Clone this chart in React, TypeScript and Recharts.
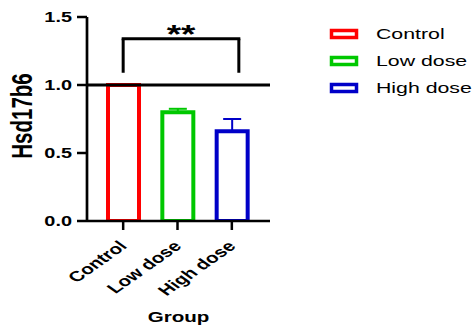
import React from "react";
import {
  BarChart,
  Bar,
  XAxis,
  YAxis,
  ErrorBar,
  ReferenceLine,
  Label,
  Legend,
} from "recharts";

const groups = ["Control", "Low dose", "High dose"];
const means = [1.0, 0.8, 0.66];
const upperErrors = [0, 0.025, 0.09];
const colors = ["#FF0000", "#00C800", "#0000C8"];
const yTicks = [0, 0.5, 1.0, 1.5];
const bracketTop = 1.34;
const bracketLeg = 1.09;
const signif = "**";

const FONT = "'Liberation Sans', Arial, sans-serif";
// the source picture is stretched sideways, so text is widened to match
const SX = 1.42;
const BRACKET_RIGHT_SHIFT = 7;

// one row per group, one key per group so every bar gets its own colour + error bar
const data = groups.map((g, i) => {
  const row: Record<string, any> = { group: g };
  groups.forEach((k, j) => {
    row[k] = i === j ? means[i] : 0;
    row[k + "_err"] = i === j && upperErrors[i] > 0 ? [0, upperErrors[i]] : undefined;
  });
  return row;
});

const SText = ({ x, y, size, bold = true, anchor = "middle", rotate, dy, children }: any) => (
  <text
    transform={`translate(${x},${y}) scale(${SX},1)${rotate ? ` rotate(${rotate})` : ""}`}
    x={0}
    y={0}
    dy={dy}
    textAnchor={anchor}
    fontFamily={FONT}
    fontWeight={bold ? "bold" : "normal"}
    fontSize={size}
    fill="#000"
  >
    {children}
  </text>
);

const XTick = (props: any) => {
  const { x, y, payload } = props;
  return (
    <SText x={x + 5} y={y + 15} size={14.5} anchor="end" rotate={-45}>
      {payload.value}
    </SText>
  );
};

const YTick = (props: any) => {
  const { x, y, payload } = props;
  return (
    <SText x={x} y={y} size={14} anchor="end" dy="0.355em">
      {Number(payload.value).toFixed(1)}
    </SText>
  );
};

const LegendBox = () => (
  <svg width={149} height={90}>
    {groups.map((g, i) => (
      <g key={g} transform={`translate(0, ${14 + i * 27})`}>
        <rect x={7.5} y={-3.5} width={25} height={7} fill="#fff" stroke={colors[i]} strokeWidth={3.5} />
        <SText x={52} y={0} size={15} bold={false} anchor="start" dy="0.355em">
          {g}
        </SText>
      </g>
    ))}
  </svg>
);

export default function App() {
  return (
    <div style={{ position: "absolute", left: 0, top: 0, width: 473, height: 327, background: "#fff" }}>
      <BarChart
        width={473}
        height={327}
        data={data}
        margin={{ top: 17, right: 203, bottom: 0, left: 0 }}
        barSize={31}
      >
        <XAxis
          dataKey="group"
          height={106}
          padding={{ left: 9, right: 11 }}
          axisLine={{ stroke: "#000", strokeWidth: 2.7 }}
          tickLine={{ stroke: "#000", strokeWidth: 2.5 }}
          tickSize={9}
          tick={<XTick />}
          interval={0}
        >
          <Label
            content={({ viewBox }: any) => (
              <SText x={viewBox.x + viewBox.width / 2} y={322} size={14.5}>
                Group
              </SText>
            )}
          />
        </XAxis>
        <YAxis
          width={87}
          domain={[0, 1.5]}
          ticks={yTicks}
          axisLine={{ stroke: "#000", strokeWidth: 2.7 }}
          tickLine={{ stroke: "#000", strokeWidth: 2.5 }}
          tickSize={10}
          tickMargin={5}
          tick={<YTick />}
          allowDataOverflow
        >
          <Label
            content={({ viewBox }: any) => (
              <SText x={22} y={viewBox.y + viewBox.height / 2 - 3} size={20.5} rotate={-90} dy="0.355em">
                Hsd17b6
              </SText>
            )}
          />
        </YAxis>
        {groups.map((g, i) => (
          <Bar
            key={g}
            dataKey={g}
            name={g}
            stackId="a"
            fill="#fff"
            stroke={colors[i]}
            strokeWidth={4}
            isAnimationActive={false}
          >
            <ErrorBar
              dataKey={g + "_err"}
              direction="y"
              width={9}
              stroke={colors[i]}
              strokeWidth={2}
              isAnimationActive={false}
            />
          </Bar>
        ))}
        <ReferenceLine y={1} stroke="#000" strokeWidth={3} />
        <ReferenceLine
          segment={[
            { x: groups[0], y: bracketTop },
            { x: groups[2], y: bracketTop },
          ]}
          shape={(p: any) => (
            <g>
              <line x1={p.x1 - 1.5} y1={p.y1} x2={p.x2 + BRACKET_RIGHT_SHIFT + 1.5} y2={p.y2} stroke="#000" strokeWidth={3} />
              <SText x={(p.x1 + p.x2 + BRACKET_RIGHT_SHIFT) / 2} y={p.y1 + 4} size={26}>
                {signif}
              </SText>
            </g>
          )}
        />
        <ReferenceLine
          segment={[
            { x: groups[0], y: bracketLeg },
            { x: groups[0], y: bracketTop },
          ]}
          stroke="#000"
          strokeWidth={3}
        />
        <ReferenceLine
          segment={[
            { x: groups[2], y: bracketLeg },
            { x: groups[2], y: bracketTop },
          ]}
          shape={(p: any) => (
            <line
              x1={p.x1 + BRACKET_RIGHT_SHIFT}
              y1={p.y1}
              x2={p.x2 + BRACKET_RIGHT_SHIFT}
              y2={p.y2}
              stroke="#000"
              strokeWidth={3}
            />
          )}
        />
        <Legend
          layout="vertical"
          align="center"
          verticalAlign="middle"
          wrapperStyle={{ left: 324, top: 20, width: 149 }}
          content={() => <LegendBox />}
        />
      </BarChart>
    </div>
  );
}
